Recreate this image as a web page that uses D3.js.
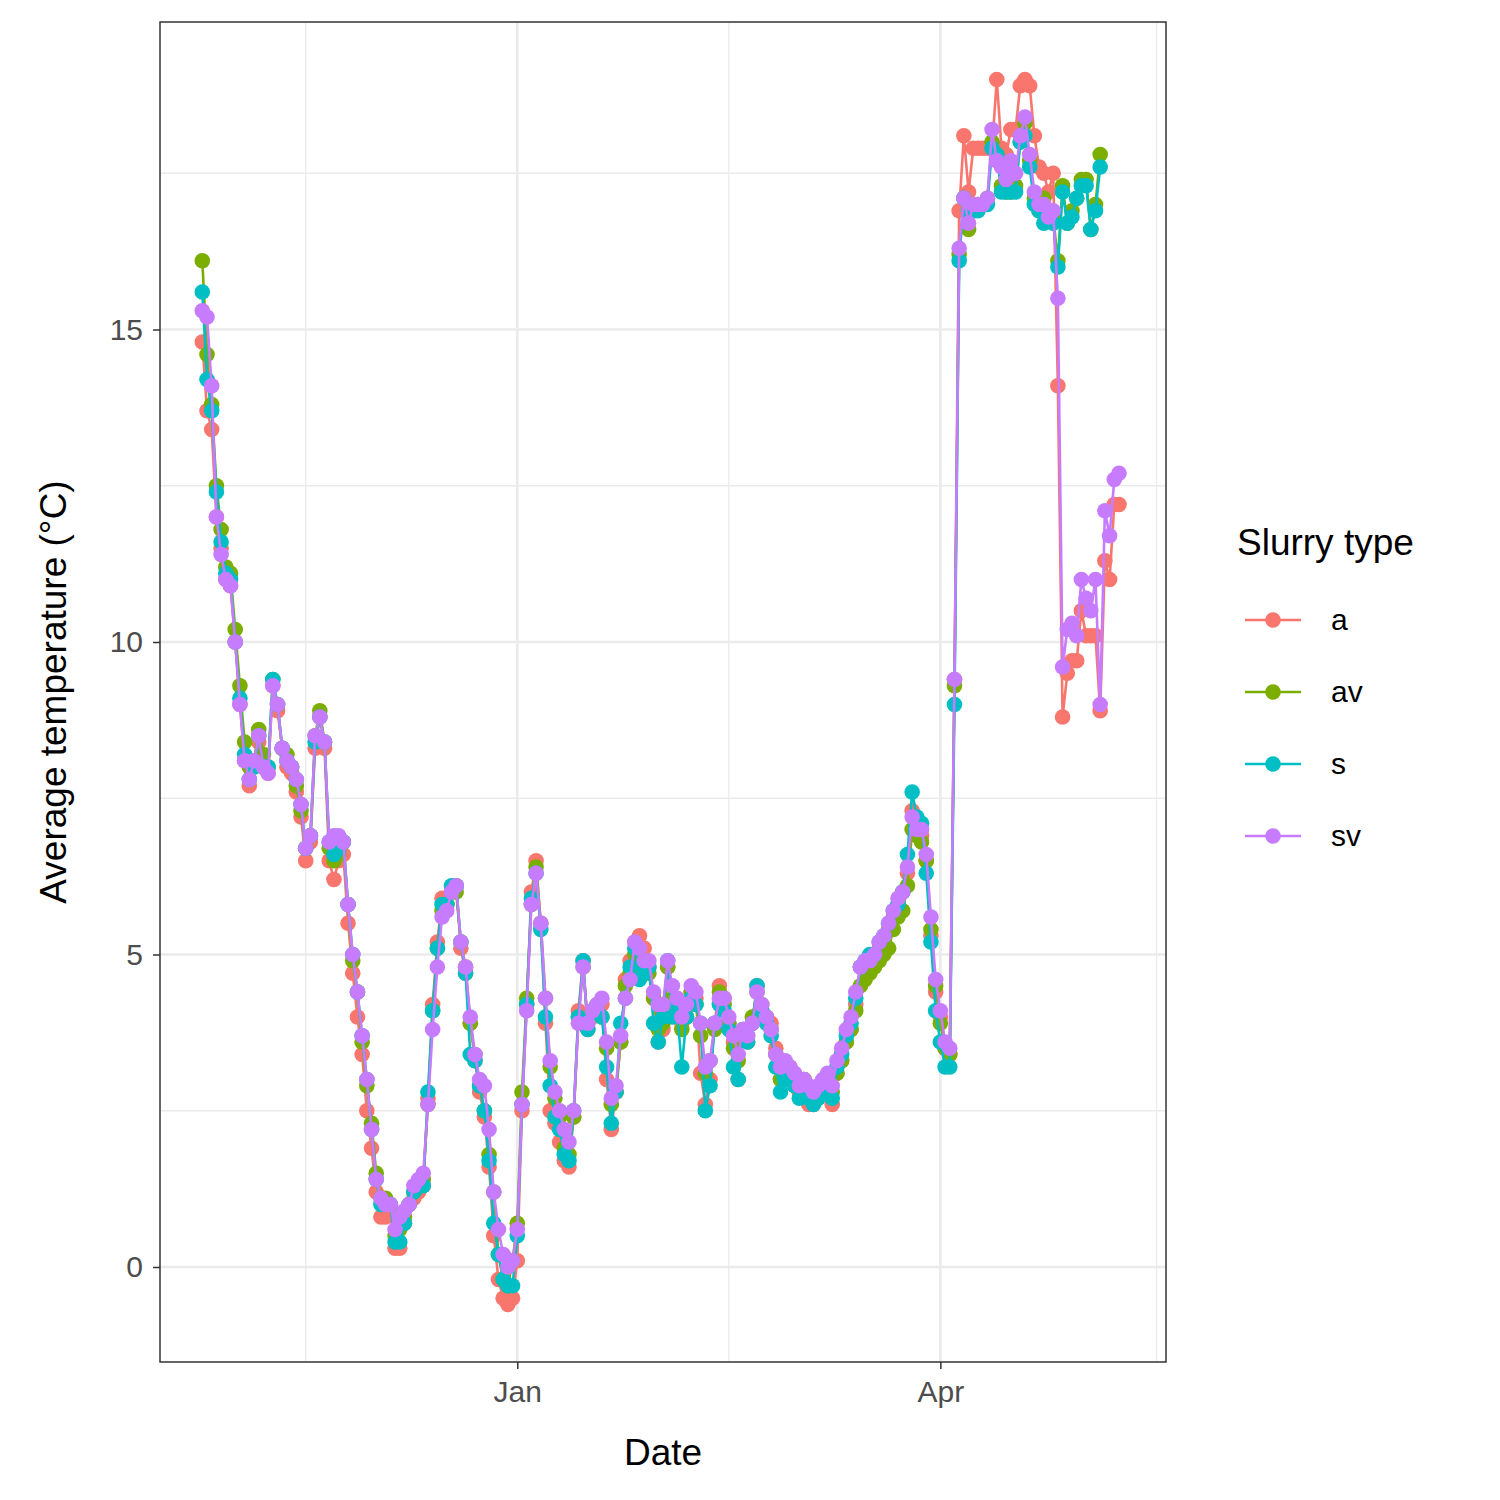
<!DOCTYPE html>
<html>
<head>
<meta charset="utf-8">
<script src="https://cdn.jsdelivr.net/npm/d3@7"></script>
<style>
body { margin: 0; background: #fff; }
text { font-family: "Liberation Sans", Arial, sans-serif; }
</style>
</head>
<body>
<div id="chartMain"></div>
<script>
const startDate = new Date(2018, 9, 26);
const seriesNames = ["a", "av", "s", "sv"];
const colors = ["#F8766D", "#7CAE00", "#00BFC4", "#C77CFF"];
const yTicks = [0, 5, 10, 15];
const xTickLabels = ["Jan", "Apr"];

const aVals = [14.8,13.7,13.4,12.0,11.5,11.0,10.9,10.0,9.0,8.1,7.7,8.0,8.4,8.0,7.9,9.3,8.9,8.3,8.0,7.9,7.6,7.2,6.5,6.8,8.3,8.8,8.3,6.5,6.2,6.5,6.6,5.5,4.7,4.0,3.4,2.5,1.9,1.2,0.8,0.8,0.9,0.3,0.3,0.7,1.0,1.1,1.2,1.3,2.7,4.2,5.2,5.9,5.8,6.0,6.1,5.1,4.7,3.9,3.3,2.8,2.4,1.6,0.5,-0.2,-0.5,-0.6,-0.5,0.1,2.5,4.2,6.0,6.5,5.5,3.9,2.5,2.3,2.0,1.7,1.6,2.4,4.1,4.9,3.8,4.0,4.2,4.2,3.0,2.2,2.8,3.6,4.6,4.9,5.2,5.3,5.1,4.8,4.3,3.6,3.8,4.8,4.2,4.1,3.9,4.2,4.4,4.3,3.1,2.6,3.0,3.9,4.5,4.3,3.9,3.6,3.0,3.8,3.6,3.9,4.5,4.1,4.0,3.9,3.5,3.0,3.2,3.2,2.9,2.8,3.0,2.6,2.6,2.7,2.8,2.9,2.6,3.1,3.3,3.6,3.8,4.2,4.8,4.8,4.8,4.9,5.1,5.2,5.4,5.6,5.8,6.0,6.3,7.3,7.1,6.9,6.5,5.3,4.4,4.0,3.5,3.4,9.4,16.9,18.1,17.2,17.9,17.9,17.9,17.9,17.9,19.0,17.9,17.8,18.2,18.2,18.9,19.0,18.9,18.1,17.6,17.5,17.2,17.5,14.1,8.8,9.5,9.7,9.7,10.5,10.1,10.1,10.1,8.9,11.3,11.0,12.2,12.2];
const avVals = [16.1,14.6,13.8,12.5,11.8,11.2,11.1,10.2,9.3,8.4,8.0,8.1,8.6,8.2,8.0,9.4,9.0,8.3,8.2,8.0,7.7,7.3,6.7,6.9,8.5,8.9,8.4,6.7,6.5,6.6,6.8,5.8,4.9,4.4,3.6,2.9,2.3,1.5,1.1,1.1,1.0,0.5,0.6,0.8,1.0,1.2,1.3,1.4,2.6,4.1,5.1,5.7,5.8,6.0,6.0,5.2,4.8,3.9,3.4,2.9,2.5,1.8,1.2,0.2,-0.2,-0.3,0.1,0.7,2.8,4.3,5.8,6.4,5.5,4.3,3.2,2.7,2.4,1.9,1.8,2.4,4.0,4.8,3.9,4.1,4.2,4.0,3.5,2.6,2.8,3.6,4.5,4.7,5.0,4.7,4.9,4.7,4.3,3.8,3.9,4.8,4.3,4.2,3.8,4.0,4.4,4.2,3.7,3.1,3.3,3.8,4.4,4.2,3.9,3.5,3.3,3.7,3.7,4.0,4.4,4.2,4.0,3.8,3.4,3.0,3.1,3.1,3.0,2.9,3.0,2.8,2.7,2.8,2.9,3.0,2.8,3.1,3.3,3.6,3.8,4.1,4.5,4.6,4.7,4.8,4.9,5.0,5.1,5.4,5.6,5.7,6.1,7.0,6.9,6.8,6.5,5.4,4.5,3.9,3.5,3.4,9.3,16.2,17.1,16.6,16.9,17.0,17.0,17.1,18.0,17.8,17.3,17.2,17.2,17.3,18.0,18.3,17.7,17.1,16.9,17.1,16.9,16.8,16.1,17.3,16.7,16.9,17.1,17.4,17.4,16.6,17.0,17.8,null,null,null,null];
const sVals = [15.6,14.2,13.7,12.4,11.6,11.1,11.0,10.0,9.1,8.2,7.8,8.0,8.5,8.0,8.0,9.4,9.0,8.3,8.1,8.0,7.8,7.4,6.7,6.9,8.4,8.8,8.4,6.8,6.6,6.7,6.8,5.8,5.0,4.4,3.7,3.0,2.2,1.4,1.0,1.0,1.0,0.4,0.4,0.7,1.0,1.2,1.3,1.3,2.8,4.1,5.1,5.8,5.8,6.1,6.1,5.2,4.7,3.4,3.3,2.9,2.5,1.7,0.7,0.2,-0.2,-0.3,-0.3,0.5,2.6,4.2,5.9,6.3,5.4,4.0,2.9,2.4,2.2,1.8,1.7,2.5,4.0,4.9,3.8,4.1,4.1,4.0,3.2,2.3,2.8,3.9,4.3,4.8,5.1,4.6,4.7,4.8,3.9,3.6,4.0,4.9,4.0,4.1,3.2,4.0,4.3,4.2,3.9,2.5,2.9,3.9,4.2,4.1,3.8,3.2,3.0,3.8,3.6,3.9,4.5,4.1,3.9,3.7,3.2,2.8,3.0,3.1,2.9,2.7,2.9,2.7,2.6,2.7,2.8,2.9,2.7,3.2,3.4,3.7,3.9,4.3,4.8,4.9,5.0,5.0,5.2,5.3,5.5,5.7,5.8,6.0,6.6,7.6,7.2,7.1,6.3,5.2,4.1,3.6,3.2,3.2,9.0,16.1,17.1,16.9,16.9,16.9,17.0,17.0,17.9,17.8,17.2,17.2,17.2,17.2,18.0,18.1,17.6,17.0,16.9,16.7,16.8,16.7,16.0,17.2,16.7,16.8,17.1,17.3,17.3,16.6,16.9,17.6,null,null,null,null];
const svVals = [15.3,15.2,14.1,12.0,11.4,11.0,10.9,10.0,9.0,8.1,7.8,8.1,8.5,8.0,7.9,9.3,9.0,8.3,8.1,8.0,7.8,7.4,6.7,6.9,8.5,8.8,8.4,6.8,6.9,6.9,6.8,5.8,5.0,4.4,3.7,3.0,2.2,1.4,1.1,1.0,1.0,0.6,0.8,0.9,1.0,1.3,1.4,1.5,2.6,3.8,4.8,5.6,5.7,6.0,6.1,5.2,4.8,4.0,3.4,3.0,2.9,2.2,1.2,0.6,0.2,0.0,0.1,0.6,2.6,4.1,5.8,6.3,5.5,4.3,3.3,2.8,2.5,2.2,2.0,2.5,3.9,4.8,3.9,4.1,4.2,4.3,3.6,2.7,2.9,3.7,4.3,4.6,5.2,5.1,4.9,4.9,4.4,4.2,4.2,4.9,4.5,4.3,4.0,4.2,4.5,4.4,3.9,3.2,3.3,3.9,4.3,4.3,4.0,3.7,3.4,3.8,3.7,3.9,4.4,4.2,4.0,3.8,3.4,3.2,3.3,3.2,3.1,2.9,3.0,2.9,2.8,2.9,3.0,3.1,2.9,3.3,3.5,3.8,4.0,4.4,4.8,4.9,4.9,5.0,5.2,5.3,5.5,5.7,5.9,6.0,6.4,7.2,7.0,7.0,6.6,5.6,4.6,4.1,3.6,3.5,9.4,16.3,17.1,16.7,17.0,17.0,17.0,17.1,18.2,17.7,17.6,17.4,17.7,17.5,18.1,18.4,17.8,17.2,17.0,17.0,16.8,16.9,15.5,9.6,10.2,10.3,10.1,11.0,10.7,10.5,11.0,9.0,12.1,11.7,12.6,12.7];
const allVals = [aVals, avVals, sVals, svVals];

const dates = aVals.map((_, i) => d3.timeDay.offset(startDate, i));

const W = 1500, H = 1500;
const margin = { top: 22, right: 334, bottom: 138, left: 160 };
const width = W - margin.left - margin.right;
const height = H - margin.top - margin.bottom;

const svg = d3.select("#chartMain").append("svg")
  .attr("width", W).attr("height", H);
const g = svg.append("g").attr("transform", `translate(${margin.left},${margin.top})`);

const x = d3.scaleTime()
  .domain([new Date(2018, 9, 17), new Date(2019, 4, 19)])
  .range([0, width]);
const y = d3.scaleLinear().domain([-1.52, 19.92]).range([height, 0]);

const xMajor = [new Date(2019, 0, 1), new Date(2019, 3, 1)];
const xMinor = [new Date(2018, 10, 17), new Date(2019, 1, 15), new Date(2019, 4, 17)];
const yMinor = [2.5, 7.5, 12.5, 17.5];

g.selectAll(".ymin").data(yMinor).join("line")
  .attr("x1", 0).attr("x2", width).attr("y1", d => y(d)).attr("y2", d => y(d))
  .attr("stroke", "#ebebeb").attr("stroke-width", 1.3);
g.selectAll(".xmin").data(xMinor).join("line")
  .attr("y1", 0).attr("y2", height).attr("x1", d => x(d)).attr("x2", d => x(d))
  .attr("stroke", "#ebebeb").attr("stroke-width", 1.3);
g.selectAll(".ymaj").data(yTicks).join("line")
  .attr("x1", 0).attr("x2", width).attr("y1", d => y(d)).attr("y2", d => y(d))
  .attr("stroke", "#ebebeb").attr("stroke-width", 2.7);
g.selectAll(".xmaj").data(xMajor).join("line")
  .attr("y1", 0).attr("y2", height).attr("x1", d => x(d)).attr("x2", d => x(d))
  .attr("stroke", "#ebebeb").attr("stroke-width", 2.7);

const line = d3.line()
  .defined(d => d.v !== null)
  .x(d => x(d.date)).y(d => y(d.v));

seriesNames.forEach((name, k) => {
  const pts = allVals[k].map((v, i) => ({ date: dates[i], v }));
  g.append("path").datum(pts)
    .attr("fill", "none").attr("stroke", colors[k]).attr("stroke-width", 2.6)
    .attr("d", line);
  g.selectAll(".p" + name).data(pts.filter(d => d.v !== null)).join("circle")
    .attr("cx", d => x(d.date)).attr("cy", d => y(d.v)).attr("r", 7.8)
    .attr("fill", colors[k]);
});

g.append("rect").attr("width", width).attr("height", height)
  .attr("fill", "none").attr("stroke", "#333").attr("stroke-width", 1.5);

// axes
const xAxis = g.append("g").attr("transform", `translate(0,${height})`)
  .call(d3.axisBottom(x).tickValues(xMajor).tickFormat((d, i) => xTickLabels[i]).tickSize(7).tickPadding(12));
const yAxis = g.append("g")
  .call(d3.axisLeft(y).tickValues(yTicks).tickSize(7).tickPadding(10));
[xAxis, yAxis].forEach(a => {
  a.select(".domain").remove();
  a.selectAll("line").attr("stroke", "#333").attr("stroke-width", 1.5);
  a.selectAll("text").attr("fill", "#4d4d4d").style("font-size", "30px")
    .style("font-family", "Liberation Sans, Arial, sans-serif");
});

svg.append("text").attr("x", margin.left + width / 2).attr("y", 1465)
  .attr("text-anchor", "middle").style("font-size", "37px").text("Date");
svg.append("text").attr("transform", `translate(66,${margin.top + height / 2}) rotate(-90)`)
  .attr("text-anchor", "middle").style("font-size", "37px").text("Average temperature (°C)");

// legend
const legend = svg.append("g").attr("transform", "translate(1237,0)");
legend.append("text").attr("x", 0).attr("y", 555).style("font-size", "37px").text("Slurry type");
seriesNames.forEach((name, k) => {
  const cy = 620 + k * 72;
  legend.append("line").attr("x1", 8).attr("x2", 64).attr("y1", cy).attr("y2", cy)
    .attr("stroke", colors[k]).attr("stroke-width", 2.6);
  legend.append("circle").attr("cx", 36).attr("cy", cy).attr("r", 7.8).attr("fill", colors[k]);
  legend.append("text").attr("x", 94).attr("y", cy + 10).style("font-size", "30px").text(name);
});
</script>
</body>
</html>
